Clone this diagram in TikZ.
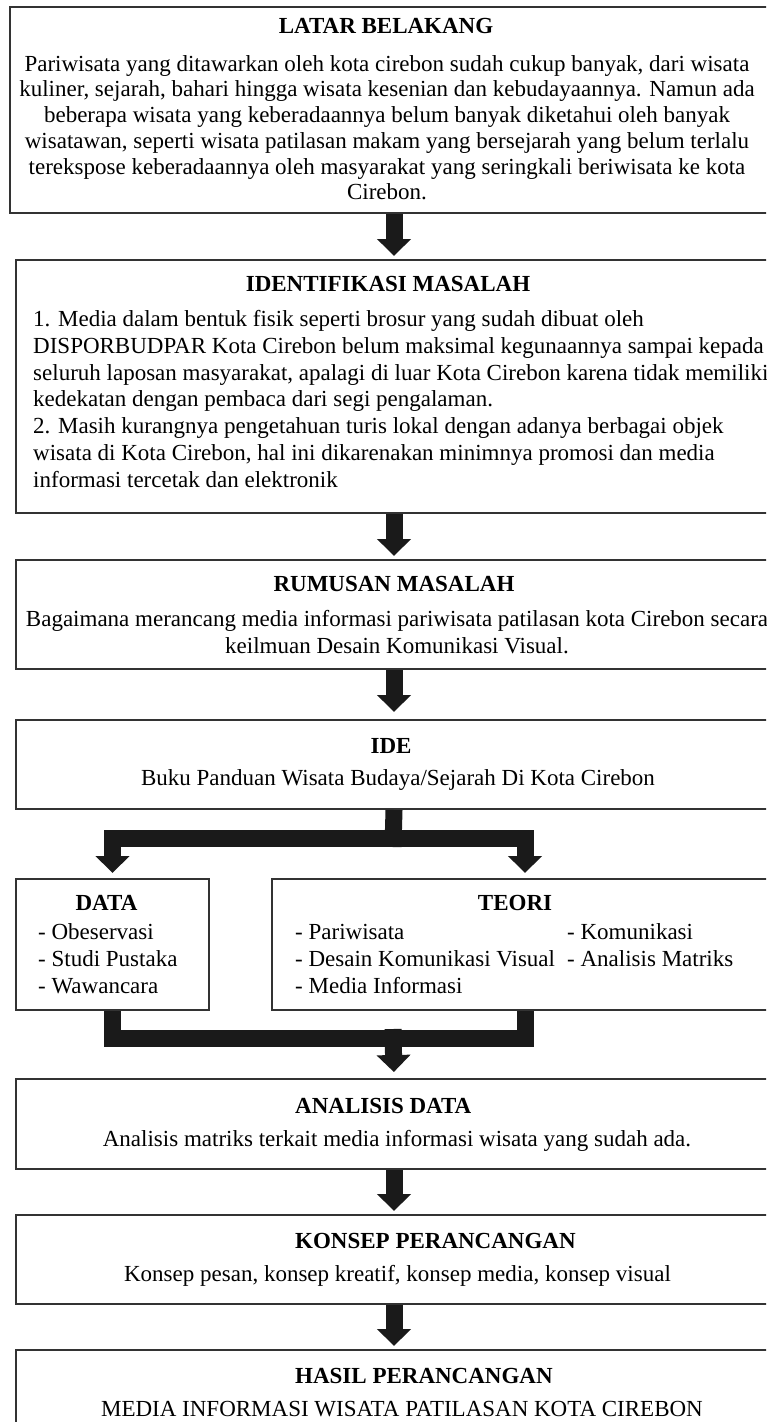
\documentclass[tikz,border=0pt]{standalone}
\usepackage{fontspec}
\setmainfont{Liberation Serif}
\usetikzlibrary{arrows.meta}
\definecolor{boxc}{HTML}{333333}
\definecolor{arrc}{HTML}{1A1A1A}
\begin{document}
\begin{tikzpicture}[x=1pt,y=-1pt,
  box/.style={draw=boxc, line width=2pt, rectangle, inner sep=0pt, anchor=north west},
  shaft/.style={draw=arrc, line width=17pt, line join=miter},
  conn/.style={shaft, -{Triangle[width=33pt,length=17pt]}, shorten >=3pt},
  ttl/.style={font=\bfseries\fontsize{23}{27}\selectfont, inner sep=0pt, anchor=base},
  ttlw/.style={ttl, anchor=base west},
  txt/.style={font=\fontsize{23}{27}\selectfont, inner sep=0pt, anchor=base},
  para/.style={inner sep=0pt, anchor=north, align=center},
  lpara/.style={inner sep=0pt, anchor=north west, align=left, font=\fontsize{23}{27}\selectfont},
]
\useasboundingbox (0,0) rectangle (766,1422);
\clip (0,0) rectangle (766,1422);

% boxes
\node[box, minimum width=768pt, minimum height=206pt] (latar) at (9,6) {};
\node[box, minimum width=756pt, minimum height=253pt] (ident) at (15,259) {};
\node[box, minimum width=756pt, minimum height=109pt] (rumus) at (15,559) {};
\node[box, minimum width=756pt, minimum height=89pt] (ide) at (15,719) {};
\node[box, minimum width=193pt, minimum height=131pt] (data) at (15,878) {};
\node[box, minimum width=506pt, minimum height=131pt] (teori) at (271,878) {};
\node[box, minimum width=756pt, minimum height=90pt] (anal) at (15,1078) {};
\node[box, minimum width=756pt, minimum height=89pt] (konsep) at (15,1214) {};
\node[box, minimum width=756pt, minimum height=100pt] (hasil) at (15,1349) {};

% texts
\node[ttl] (t1) at (386,33) {LATAR BELAKANG};
\node[para, font=\fontsize{23}{25.7}\selectfont] (p1) at (387,53) {\rule{0pt}{18pt}Pariwisata yang ditawarkan oleh kota cirebon sudah cukup banyak, dari wisata\\
kuliner, sejarah, bahari hingga wisata kesenian dan kebudayaannya. Namun ada\\
beberapa wisata yang keberadaannya belum banyak diketahui oleh banyak\\
wisatawan, seperti wisata patilasan makam yang bersejarah yang belum terlalu\\
terekspose keberadaannya oleh masyarakat yang seringkali beriwisata ke kota\\
Cirebon.};

\node[ttl] (t2) at (388,291) {IDENTIFIKASI MASALAH};
\node[lpara, font=\fontsize{23}{26.9}\selectfont] (p2) at (33,308) {\rule{0pt}{18pt}1. Media dalam bentuk fisik seperti brosur yang sudah dibuat oleh\\
DISPORBUDPAR Kota Cirebon belum maksimal kegunaannya sampai kepada\\
seluruh laposan masyarakat, apalagi di luar Kota Cirebon karena tidak memiliki\\
kedekatan dengan pembaca dari segi pengalaman.\\
2. Masih kurangnya pengetahuan turis lokal dengan adanya berbagai objek\\
wisata di Kota Cirebon, hal ini dikarenakan minimnya promosi dan media\\
informasi tercetak dan elektronik};

\node[ttl] (t3) at (394,591) {RUMUSAN MASALAH};
\node[para, font=\fontsize{23}{27}\selectfont] (p3) at (397,608) {\rule{0pt}{18pt}Bagaimana merancang media informasi pariwisata patilasan kota Cirebon secara\\
keilmuan Desain Komunikasi Visual.};

\node[ttl] (t4) at (391,753) {IDE};
\node[txt] (p4) at (398,785) {Buku Panduan Wisata Budaya/Sejarah Di Kota Cirebon};

\node[ttl] (t5) at (106.5,910) {DATA};
\node[lpara] (p5) at (38,921) {\rule{0pt}{18pt}- Obeservasi\\- Studi Pustaka\\- Wawancara};

\node[ttl] (t6) at (515,910) {TEORI};
\node[lpara] (p6a) at (295,921) {\rule{0pt}{18pt}- Pariwisata\\- Desain Komunikasi Visual\\- Media Informasi};
\node[lpara] (p6b) at (567,921) {\rule{0pt}{18pt}- Komunikasi\\- Analisis Matriks};

\node[ttlw] (t7) at (295,1113) {ANALISIS DATA};
\node[txt] (p7) at (397,1146) {Analisis matriks terkait media informasi wisata yang sudah ada.};

\node[ttlw] (t8) at (295,1248) {KONSEP PERANCANGAN};
\node[txt] (p8) at (397.5,1281) {Konsep pesan, konsep kreatif, konsep media, konsep visual};

\node[ttlw] (t9) at (295,1383) {HASIL PERANCANGAN};
\node[txt] (p9) at (402,1416) {MEDIA INFORMASI WISATA PATILASAN KOTA CIREBON};

% connectors
\coordinate (split) at (393,838);
\coordinate (splitlow) at (393,847);
\coordinate (merge) at (393,1038);
\coordinate (mergetop) at (393,1029);
\draw[conn] (latar.south) -- (ident.north);
\draw[conn] (ident.south) -- (rumus.north);
\draw[conn, shorten >=7pt] (rumus.south) -- (ide.north);
\draw[shaft] (ide.south) -- (splitlow);
\draw[conn, shorten >=5pt] (split) -| (data.north);
\draw[conn, shorten >=5pt] (split) -| (teori.north);
\draw[shaft] (data.south) |- (merge);
\draw[shaft] (teori.south) |- (merge);
\draw[conn, shorten >=6pt] (mergetop) -- (anal.north);
\draw[conn] (anal.south) -- (konsep.north);
\draw[conn] (konsep.south) -- (hasil.north);
\end{tikzpicture}
\end{document}
